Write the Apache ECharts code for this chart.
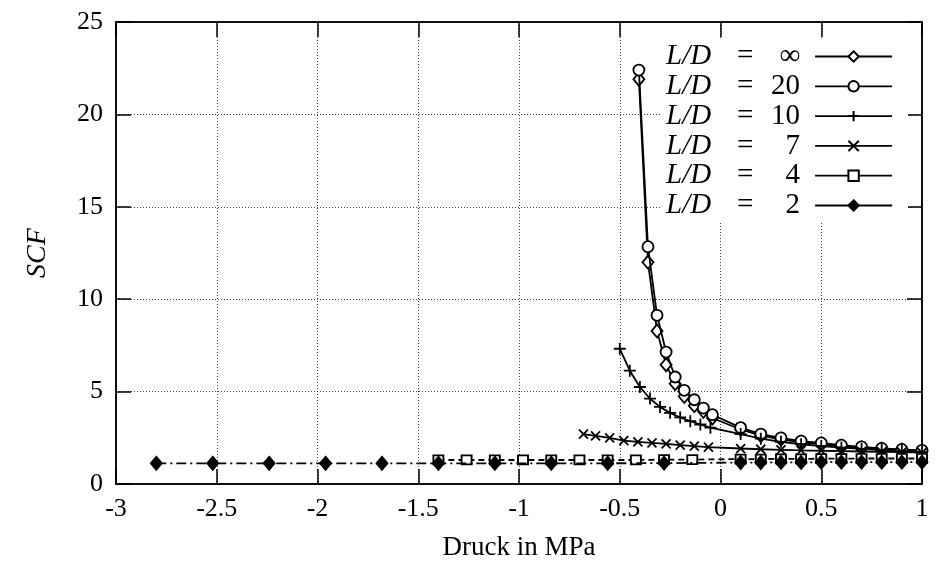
<!DOCTYPE html>
<html><head><meta charset="utf-8">
<script src="https://cdn.jsdelivr.net/npm/echarts@6/dist/echarts.min.js"></script>
<style>html,body{margin:0;padding:0;background:#fff}#c{width:936px;height:571px}</style>
</head><body><div id="c"></div>
<script>
const seriesNames = ['L/D = ∞','L/D = 20','L/D = 10','L/D = 7','L/D = 4','L/D = 2'];
const legendNums = ['∞','20','10','7','4','2'];
const xTicks = [-3,-2.5,-2,-1.5,-1,-0.5,0,0.5,1];
const yTicks = [0,5,10,15,20,25];

const xSteep = [-0.405,-0.36,-0.315,-0.27,-0.225,-0.18,-0.13,-0.085,-0.04,0.1,0.2,0.3,0.4,0.5,0.6,0.7,0.8,0.9,1.0];
const yInf   = [21.9,12.0,8.28,6.45,5.43,4.74,4.24,3.93,3.57,2.95,2.62,2.42,2.26,2.15,2.04,1.96,1.89,1.83,1.78];
const y20    = [22.4,12.84,9.13,7.14,5.79,5.07,4.56,4.11,3.75,3.05,2.7,2.5,2.32,2.22,2.1,2.01,1.93,1.87,1.82];

const x10 = [-0.5,-0.45,-0.4,-0.35,-0.3,-0.25,-0.2,-0.15,-0.1,-0.05,0.1,0.2,0.3,0.4,0.5,0.6,0.7,0.8,0.9,1.0];
const y10 = [7.32,6.13,5.25,4.62,4.17,3.85,3.6,3.4,3.22,3.05,2.7,2.45,2.28,2.15,2.05,1.97,1.9,1.84,1.78,1.73];

const x7 = [-0.68,-0.62,-0.55,-0.48,-0.41,-0.34,-0.27,-0.2,-0.13,-0.06,0.1,0.2,0.3,0.4,0.5,0.6,0.7,0.8,0.9,1.0];
const y7 = [2.7,2.6,2.5,2.35,2.28,2.22,2.17,2.1,2.05,2.0,1.92,1.88,1.85,1.82,1.8,1.78,1.76,1.74,1.72,1.7];

const x4 = [-1.4,-1.26,-1.12,-0.98,-0.84,-0.7,-0.56,-0.42,-0.28,-0.14,0.1,0.2,0.3,0.4,0.5,0.6,0.7,0.8,0.9,1.0];
const y4 = [1.3,1.3,1.3,1.3,1.3,1.3,1.3,1.3,1.32,1.32,1.35,1.35,1.36,1.36,1.37,1.37,1.38,1.38,1.38,1.38];

const x2 = [-2.8,-2.52,-2.24,-1.96,-1.68,-1.4,-1.12,-0.84,-0.56,-0.28,0.1,0.2,0.3,0.4,0.5,0.6,0.7,0.8,0.9,1.0];
const y2 = [1.12,1.12,1.12,1.12,1.12,1.12,1.12,1.12,1.12,1.13,1.16,1.16,1.17,1.17,1.18,1.18,1.18,1.18,1.18,1.18];

const zip = (a,b) => a.map((v,i)=>[v,b[i]]);
const FONT = 'Liberation Serif';

const styles = [
  {symbol:'diamond', size:[11,13], fill:'#fff', dash:'solid'},
  {symbol:'circle', size:11, fill:'#fff', dash:'solid'},
  {symbol:'path://M5,0L5,10M0,5L10,5', size:12, fill:'#000', dash:'solid'},
  {symbol:'path://M0,0L10,10M10,0L0,10', size:9, fill:'#000', dash:'solid'},
  {symbol:'rect', size:[10,9], fill:'#fff', dash:[6,4]},
  {symbol:'diamond', size:[11,13], fill:'#000', dash:[10,4,2,4]}
];
const datas = [zip(xSteep,yInf), zip(xSteep,y20), zip(x10,y10), zip(x7,y7), zip(x4,y4), zip(x2,y2)];

const series = seriesNames.map((n,i)=>({
  name:n, type:'line', data:datas[i], xAxisIndex:0, yAxisIndex:0,
  symbol:styles[i].symbol, symbolSize:styles[i].size, showAllSymbol:true,
  lineStyle:{color:'#000', width:1.8, type:styles[i].dash},
  itemStyle:{color:styles[i].fill, borderColor:'#000', borderWidth:1.8},
  emphasis:{disabled:true}, animation:false, z:2+i
}));

const chart = echarts.init(document.getElementById('c'));
chart.setOption({
  animation:false,
  grid:{left:116, right:14, top:22, bottom:87, show:true, borderColor:'#000', borderWidth:1.5, backgroundColor:'transparent'},
  legend:{
    data:seriesNames, right:28, top:39, orient:'vertical', align:'right',
    backgroundColor:'#fff', padding:[3,15,3,6], itemGap:0.8, itemWidth:77, itemHeight:13,
    lineStyle:{type:'solid', width:1.8, color:'#000'},
    textStyle:{fontFamily:FONT, fontSize:29, color:'#000', lineHeight:26,
      rich:{
        i:{fontFamily:FONT, fontStyle:'italic', fontSize:29, lineHeight:26, width:58, align:'left'},
        e:{fontFamily:FONT, fontSize:29, lineHeight:26, width:42, align:'center'},
        n:{fontFamily:FONT, fontSize:29, lineHeight:26, width:34, align:'right'},
        g:{fontSize:10, lineHeight:26, width:10}
      }},
    formatter:(name)=>{const k=seriesNames.indexOf(name); return '{i|L/D}{e|=}{n|'+legendNums[k]+'}{g| }';}
  },
  xAxis:[{
    type:'value', min:xTicks[0], max:xTicks[xTicks.length-1], interval:0.5,
    name:'Druck in MPa', nameLocation:'middle', nameGap:50,
    nameTextStyle:{fontFamily:FONT, fontSize:27, color:'#000'},
    axisLine:{show:true, onZero:false, lineStyle:{color:'#000', width:1.5}},
    axisTick:{show:true, inside:true, length:15, lineStyle:{color:'#000', width:1.5}},
    axisLabel:{fontFamily:FONT, fontSize:26, color:'#000', margin:12},
    splitLine:{show:true, lineStyle:{color:'#444', type:[1,2], width:1}}
  },{
    type:'value', position:'top', min:xTicks[0], max:xTicks[xTicks.length-1], interval:0.5,
    axisLine:{show:true, onZero:false, lineStyle:{color:'#000', width:1.5}},
    axisTick:{show:true, inside:true, length:15, lineStyle:{color:'#000', width:1.5}},
    axisLabel:{show:false}, splitLine:{show:false}
  }],
  yAxis:[{
    type:'value', min:yTicks[0], max:yTicks[yTicks.length-1], interval:5,
    name:'SCF', nameLocation:'middle', nameGap:64, nameRotate:90,
    nameTextStyle:{fontFamily:FONT, fontStyle:'italic', fontSize:28, color:'#000'},
    axisLine:{show:true, onZero:false, lineStyle:{color:'#000', width:1.5}},
    axisTick:{show:true, inside:true, length:15, lineStyle:{color:'#000', width:1.5}},
    axisLabel:{fontFamily:FONT, fontSize:26, color:'#000', margin:13},
    splitLine:{show:true, lineStyle:{color:'#444', type:[1,2], width:1}}
  },{
    type:'value', position:'right', min:yTicks[0], max:yTicks[yTicks.length-1], interval:5,
    axisLine:{show:true, onZero:false, lineStyle:{color:'#000', width:1.5}},
    axisTick:{show:true, inside:true, length:15, lineStyle:{color:'#000', width:1.5}},
    axisLabel:{show:false}, splitLine:{show:false}
  }],
  series:series
});
</script></body></html>
